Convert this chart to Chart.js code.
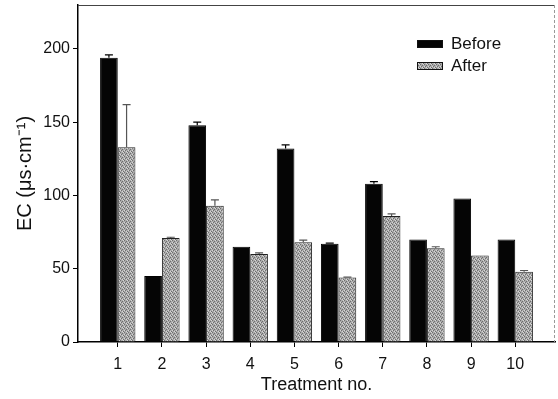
<!DOCTYPE html>
<html>
<head>
<meta charset="utf-8">
<script src="https://cdn.jsdelivr.net/npm/chart.js@4/dist/chart.umd.min.js"></script>
<style>
  html, body { margin: 0; padding: 0; background: #fff; }
  #wrap { width: 558px; height: 399px; }
</style>
</head>
<body>
<div id="wrap"><canvas id="ecChart" width="558" height="399"></canvas></div>
<script>
// treatment numbers and EC readings (µs·cm⁻¹)
const treatments = [1, 2, 3, 4, 5, 6, 7, 8, 9, 10];
const beforeValues = [194, 45, 148, 65, 132, 67, 108, 70, 98, 70];
const afterValues = [133, 71, 93, 60, 68, 44, 86, 64, 59, 48];
const beforeErrors = [2, 0, 2, 0, 2.5, 0.5, 1.5, 0, 0, 0];
const afterErrors = [29, 0.5, 4, 0.8, 1.5, 0.3, 1.5, 1, 0, 0.8];
const yTicks = [0, 50, 100, 150, 200];

const FONT = "'Liberation Sans', Arial, sans-serif";

/**
 * Helper: stippled grey fill like the printed "After" bars
 */
function makeStipple() {
  const c = document.createElement("canvas");
  c.width = 4;
  c.height = 4;
  const g = c.getContext("2d");
  g.fillStyle = "#aaaaaa";
  g.fillRect(0, 0, 4, 4);
  g.fillStyle = "#6e6e6e";
  [[0, 0], [2, 1], [1, 2], [3, 3]].forEach(([x, y]) => g.fillRect(x, y, 1, 1));
  g.fillStyle = "#d6d6d6";
  [[2, 3], [0, 2], [3, 0]].forEach(([x, y]) => g.fillRect(x, y, 1, 1));
  return g.createPattern(c, "repeat");
}

/**
 * Plugin: one-sided error bars drawn above each bar
 */
const errorBarPlugin = {
  id: "errorBars",
  afterDatasetsDraw(chart) {
    const { ctx, scales } = chart;
    chart.data.datasets.forEach((ds, i) => {
      const meta = chart.getDatasetMeta(i);
      meta.data.forEach((bar, j) => {
        const err = ds.errors[j];
        if (!err) return;
        const top = scales.y.getPixelForValue(ds.data[j].y + err);
        ctx.save();
        ctx.strokeStyle = ds.errorColor;
        ctx.lineWidth = 1.2;
        ctx.beginPath();
        ctx.moveTo(bar.x, bar.y);
        ctx.lineTo(bar.x, top);
        ctx.moveTo(bar.x - 4, top);
        ctx.lineTo(bar.x + 4, top);
        ctx.stroke();
        ctx.restore();
      });
    });
  },
};

/**
 * Plugin: frame (top/right) and the boxed legend inside the plot
 */
const frameLegendPlugin = {
  id: "frameLegend",
  afterDraw(chart) {
    const { ctx, chartArea: a } = chart;
    ctx.save();
    ctx.strokeStyle = "#444";
    ctx.lineWidth = 1;
    ctx.beginPath();
    ctx.moveTo(a.left, a.top + 0.5);
    ctx.lineTo(a.right, a.top + 0.5);
    ctx.stroke();
    ctx.strokeStyle = "#999";
    ctx.setLineDash([3, 2]);
    ctx.beginPath();
    ctx.moveTo(a.right - 0.5, a.top);
    ctx.lineTo(a.right - 0.5, a.bottom);
    ctx.stroke();
    ctx.setLineDash([]);

    const lx = 417, ly = 40;
    chart.data.datasets.forEach((ds, i) => {
      const y = ly + i * 22;
      ctx.fillStyle = ds.backgroundColor;
      ctx.fillRect(lx, y, 26, 8);
      ctx.strokeStyle = "#111";
      ctx.lineWidth = 1;
      ctx.strokeRect(lx + 0.5, y + 0.5, 25, 7);
      ctx.fillStyle = "#111";
      ctx.font = `17px ${FONT}`;
      ctx.textBaseline = "middle";
      ctx.fillText(ds.label, lx + 34, y + 4.5);
    });
    ctx.restore();
  },
};

function toPoints(values) {
  return values.map((v, i) => ({ x: treatments[i], y: v }));
}

function buildChartConfig() {
  return {
    type: "bar",
    data: {
      datasets: [
        {
          label: "Before",
          data: toPoints(beforeValues),
          errors: beforeErrors,
          errorColor: "#000",
          backgroundColor: "#050505",
          borderColor: "#000",
          borderWidth: 1,
          categoryPercentage: 0.8,
          barPercentage: 1.0,
        },
        {
          label: "After",
          data: toPoints(afterValues),
          errors: afterErrors,
          errorColor: "#555",
          backgroundColor: makeStipple(),
          borderColor: "#222",
          borderWidth: 1,
          categoryPercentage: 0.8,
          barPercentage: 1.0,
        },
      ],
    },
    options: {
      responsive: false,
      animation: false,
      layout: { padding: { left: 0, top: 5, right: 3, bottom: 0 } },
      plugins: {
        legend: { display: false },
        tooltip: { enabled: false },
      },
      scales: {
        x: {
          type: "linear",
          offset: false,
          min: 0.1,
          max: 10.9,
          afterBuildTicks: axis => {
            axis.ticks = treatments.map(v => ({ value: v }));
          },
          afterFit: scale => {
            scale.height = 57;
            scale.paddingLeft = 0;
            scale.paddingRight = 0;
          },
          grid: { offset: false, drawOnChartArea: false, drawTicks: true, tickLength: 5, color: "#000" },
          border: { color: "#000", width: 1.5 },
          ticks: { color: "#111", font: { family: FONT, size: 16 }, padding: 8 },
          title: {
            display: true,
            text: "Treatment no.",
            color: "#111",
            font: { family: FONT, size: 18 },
            padding: { top: 2, bottom: 3 },
          },
        },
        y: {
          min: 0,
          max: 230,
          afterBuildTicks: axis => {
            axis.ticks = yTicks.map(v => ({ value: v }));
          },
          afterFit: scale => {
            scale.width = 78;
            scale.paddingTop = 0;
            scale.paddingBottom = 0;
          },
          grid: { drawOnChartArea: false, drawTicks: true, tickLength: 5, color: "#000" },
          border: { color: "#000", width: 1.5 },
          ticks: { color: "#111", font: { family: FONT, size: 16 }, padding: 3 },
          title: {
            display: true,
            text: "EC (μs·cm⁻¹)",
            color: "#111",
            font: { family: FONT, size: 20 },
            padding: { top: 13, bottom: 4 },
          },
        },
      },
    },
    plugins: [errorBarPlugin, frameLegendPlugin],
  };
}

function renderEcChart() {
  const canvas = document.getElementById("ecChart");
  if (!canvas) return;
  new Chart(canvas.getContext("2d"), buildChartConfig());
}

renderEcChart();
</script>
</body>
</html>
